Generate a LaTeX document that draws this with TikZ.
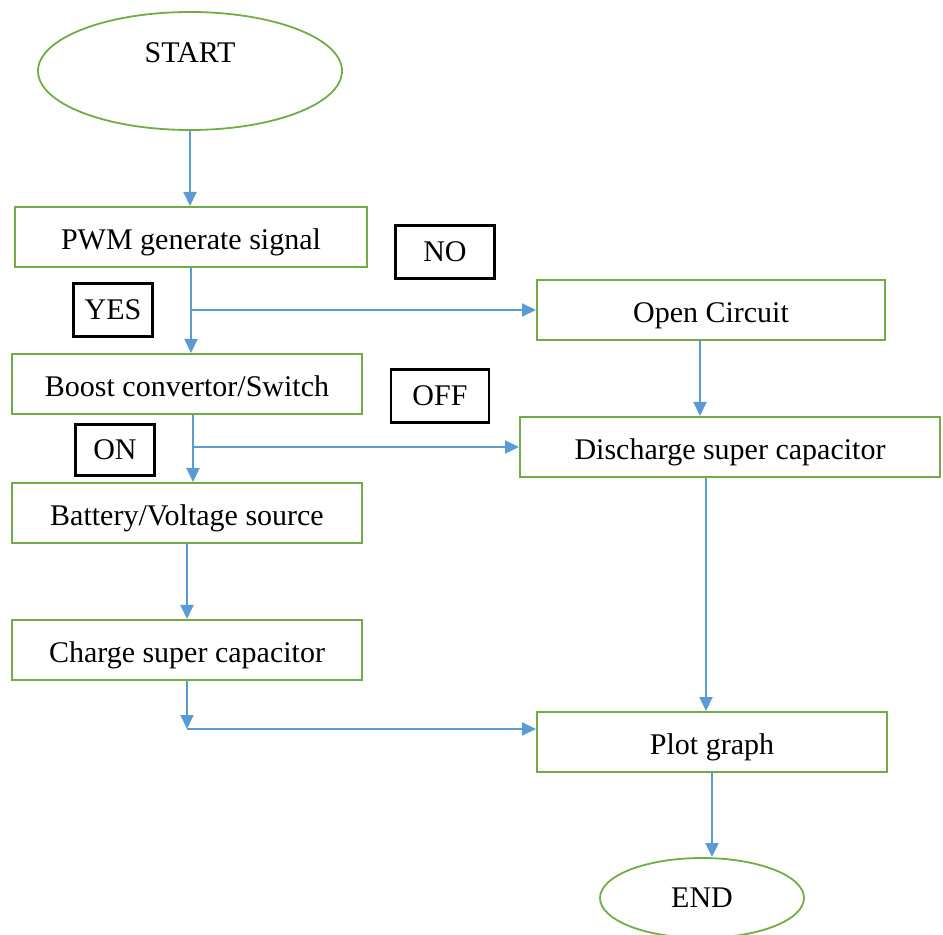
\documentclass[tikz,border=0pt]{standalone}
\usepackage{fontspec}
\setmainfont{Liberation Serif}
\usetikzlibrary{shapes.geometric,arrows.meta}
\definecolor{boxgreen}{HTML}{70AD47}
\definecolor{flowblue}{HTML}{5B9BD5}

\begin{document}
\begin{tikzpicture}[x=0.5pt,y=-0.5pt,
    font=\fontsize{15}{18}\selectfont,
    stepbox/.style={draw=boxgreen,line width=1pt,minimum height=30pt,minimum width=175pt,inner sep=0pt,text height=16pt,text depth=3.3pt},
    term/.style={draw=boxgreen,line width=0.9pt,ellipse,inner sep=0pt},
    tag/.style={draw=black,line width=1.2pt,minimum height=26.5pt,inner sep=0pt},
    flow/.style={draw=flowblue,line width=1pt,-{Triangle[width=6.5pt,length=7pt]}}]
    \useasboundingbox (0,0) rectangle (943,935);
    %% terminals
    \node[term,minimum width=152pt,minimum height=59pt,align=center] (start) at (190,71) {START\\[-5pt]\strut};
    \node[term,minimum width=102pt,minimum height=40pt] (end) at (702,898) {END};
    %% left column
    \node[stepbox,minimum width=176pt] (pwm) at (191,237) {PWM generate signal};
    \node[stepbox] (boost) at (187,384) {Boost convertor/Switch};
    \node[stepbox] (battery) at (187,513) {Battery/Voltage source};
    \node[stepbox] (charge) at (187,650) {Charge super capacitor};
    %% right column
    \node[stepbox,minimum width=174pt] (open) at (711,310) {Open Circuit};
    \node[stepbox,minimum width=210pt] (discharge) at (730,447) {Discharge super capacitor};
    \node[stepbox] (plot) at (712,742) {Plot graph};
    %% branch tags
    \node[tag,minimum width=49.5pt] (no) at (445,252) {NO};
    \node[tag,minimum width=39.5pt] (yes) at (113,310) {YES};
    \node[tag,minimum width=49pt] (off) at (440,396) {OFF};
    \node[tag,minimum width=39.5pt,minimum height=25.5pt] (on) at (115,450) {ON};
    %% arrows
    \draw[flow] (start.south) -- (start.south |- pwm.north);
    \draw[flow] (pwm.south) -- (pwm.south |- boost.north);
    \draw[flow] (pwm.south |- open.west) -- (open.west);
    \coordinate (split) at ([xshift=3pt]boost.south);
    \draw[flow] (split) -- (split |- battery.north);
    \draw[flow] (split |- discharge.west) -- (discharge.west);
    \draw[flow] (battery.south) -- (charge.north);
    \coordinate (join) at ([yshift=-24pt]charge.south);
    \draw[flow] (charge.south) -- (join);
    \draw[flow] (join) -- (join -| plot.west);
    \draw[flow] ([xshift=-5.5pt]open.south) -- ([xshift=-5.5pt]open.south |- discharge.north);
    \draw[flow] ([xshift=-3pt]plot.north |- discharge.south) -- ([xshift=-3pt]plot.north);
    \draw[flow] (plot.south) -- (plot.south |- end.north);
\end{tikzpicture}
\end{document}
